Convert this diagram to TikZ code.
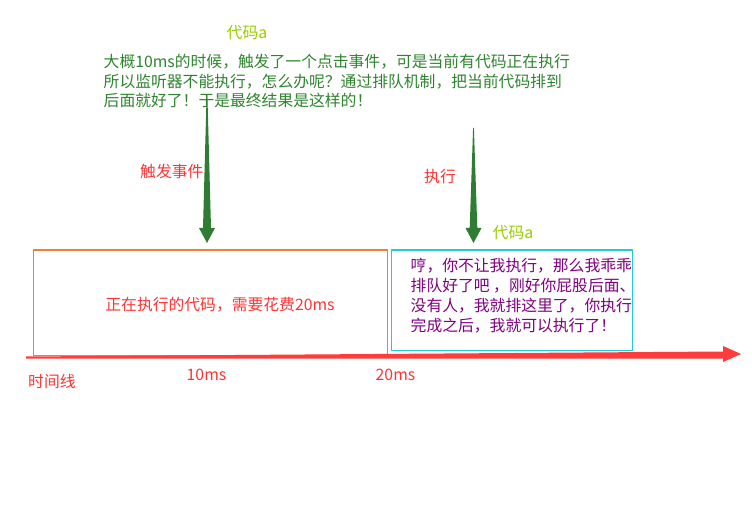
\documentclass[tikz,border=0pt]{standalone}
\usepackage{fontspec}
\newfontfamily\cjk{Noto Sans CJK SC}
\definecolor{txtgreen}{RGB}{46,132,46}
\definecolor{arrgreen}{RGB}{46,125,50}
\definecolor{lime}{RGB}{153,204,0}
\definecolor{txtred}{RGB}{255,51,51}
\definecolor{linered}{RGB}{255,59,59}
\definecolor{boxorange}{RGB}{242,128,48}
\definecolor{boxcyan}{RGB}{32,204,214}
\definecolor{txtpurple}{RGB}{128,0,128}
\begin{document}
\begin{tikzpicture}[x=1pt,y=-1pt,
  every node/.style={inner sep=0pt},
  lbl/.style={font=\cjk\fontsize{15.8}{19.3}\selectfont},
  para/.style={font=\cjk\fontsize{15.8}{19.3}\selectfont, align=left, anchor=west},
  framebox/.style={line width=1.1pt, anchor=north west},
]
\useasboundingbox (0,0) rectangle (752,521);

% boxes
\node[framebox, draw=boxorange, minimum width=354pt, minimum height=105.8pt] (codebox) at (32.5,249.5) {};
\node[framebox, draw=boxcyan, minimum width=241pt, minimum height=100.5pt] (queuebox) at (390.5,249.5) {};

% timeline
\coordinate (tstart) at (26,357.5);
\coordinate (tend) at (741,354);
\fill[linered] (26,356.5) -- (723,351.5) -- (723,346) -- (tend) -- (723,362) -- (723,358.5) -- (26,358.5) -- cycle;

% arrows
\coordinate (a1top) at (207,95);
\coordinate (a1tip) at (207,243);
\fill[arrgreen] (206.6,95) -- (207.4,95) -- (211,228) -- (215,228) -- (a1tip) -- (199,228) -- (203,228) -- cycle;
\coordinate (a2top) at (473.5,128);
\coordinate (a2tip) at (473.5,243);
\fill[arrgreen] (473.1,128) -- (473.9,128) -- (477.3,228) -- (481.5,228) -- (a2tip) -- (465.5,228) -- (469.7,228) -- cycle;

% texts
\node[lbl, text=lime, anchor=west] (codea1) at (226.5,33) {代码a};
\node[para, text=txtgreen] (para) at (103.5,81)
  {大概10ms的时候，触发了一个点击事件，可是当前有代码正在执行\\
   所以监听器不能执行，怎么办呢？通过排队机制，把当前代码排到\\
   后面就好了！于是最终结果是这样的！};
\node[lbl, text=txtred, anchor=west] (trigger) at (140,171) {触发事件};
\node[lbl, text=txtred, anchor=west] (exec) at (424,177) {执行};
\node[lbl, text=lime, anchor=west] (codea2) at (492.5,233) {代码a};
\node[lbl, text=txtred] (running) at (220,305) {正在执行的代码，需要花费20ms};
\node[para, text=txtpurple, font=\cjk\fontsize{15.8}{20}\selectfont] (wait) at (410.5,296)
  {哼，你不让我执行，那么我乖乖\\
   排队好了吧 ，刚好你屁股后面、\\
   没有人，我就排这里了，你执行\\
   完成之后，我就可以执行了！};
\node[lbl, text=txtred, anchor=west] (tl) at (28,381.5) {时间线};
\node[lbl, text=txtred] (t10) at (206.5,375) {10ms};
\node[lbl, text=txtred] (t20) at (395.5,374.5) {20ms};
\end{tikzpicture}
\end{document}
